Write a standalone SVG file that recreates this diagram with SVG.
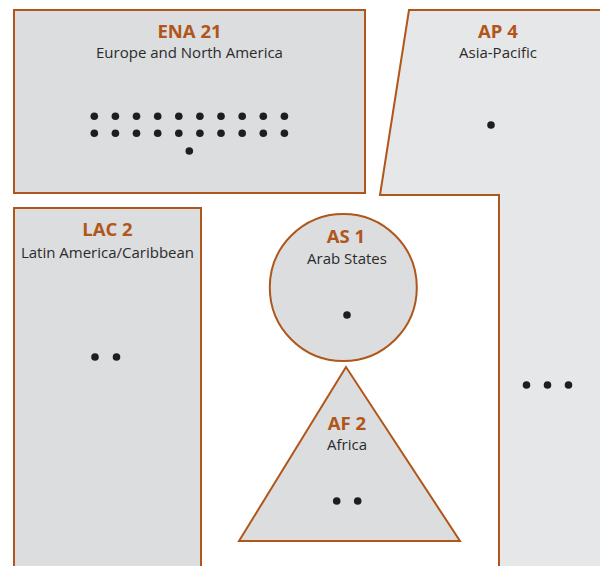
<svg xmlns="http://www.w3.org/2000/svg" width="600" height="566" viewBox="0 0 600 566">
<style>
.shape{fill:#dcdddf;stroke:#b0561a;stroke-width:2}
.ap{fill:#e6e7e9;stroke:#b0561a;stroke-width:2}
.t{font-family:"Open Sans","Noto Sans",sans-serif;font-weight:bold;font-size:18.5px;fill:#b0561a;text-anchor:middle}
.s{font-family:"Open Sans","Noto Sans",sans-serif;font-size:15px;fill:#2b2b2b;text-anchor:middle}
.d{fill:#1e1e1e}
</style>
<g id="connectors"></g>
<g id="ap">
<polygon class="ap" points="409,10 602,10 602,568 499,568 499,195 380,195"/>
<text class="t" x="498" y="38">AP 4</text>
<text class="s" x="498" y="57.5">Asia-Pacific</text>
<circle class="d" cx="491" cy="125" r="3.8"/>
<circle class="d" cx="526.5" cy="385" r="3.8"/>
<circle class="d" cx="547.5" cy="385" r="3.8"/>
<circle class="d" cx="568.5" cy="385" r="3.8"/>
</g>
<g id="ena">
<rect class="shape" x="14" y="10" width="351" height="183"/>
<text class="t" x="189.5" y="38">ENA 21</text>
<text class="s" x="189.5" y="57.5">Europe and North America</text>
<g class="d">
<circle cx="94.3" cy="116.3" r="3.8"/><circle cx="115.4" cy="116.3" r="3.8"/><circle cx="136.5" cy="116.3" r="3.8"/><circle cx="157.7" cy="116.3" r="3.8"/><circle cx="178.8" cy="116.3" r="3.8"/><circle cx="199.9" cy="116.3" r="3.8"/><circle cx="221" cy="116.3" r="3.8"/><circle cx="242.2" cy="116.3" r="3.8"/><circle cx="263.3" cy="116.3" r="3.8"/><circle cx="284.4" cy="116.3" r="3.8"/>
<circle cx="94.3" cy="133.3" r="3.8"/><circle cx="115.4" cy="133.3" r="3.8"/><circle cx="136.5" cy="133.3" r="3.8"/><circle cx="157.7" cy="133.3" r="3.8"/><circle cx="178.8" cy="133.3" r="3.8"/><circle cx="199.9" cy="133.3" r="3.8"/><circle cx="221" cy="133.3" r="3.8"/><circle cx="242.2" cy="133.3" r="3.8"/><circle cx="263.3" cy="133.3" r="3.8"/><circle cx="284.4" cy="133.3" r="3.8"/>
<circle cx="189.3" cy="151" r="3.8"/>
</g>
</g>
<g id="lac">
<rect class="shape" x="14" y="208" width="187" height="362"/>
<text class="t" x="107.5" y="236">LAC 2</text>
<text class="s" x="107.5" y="257.5">Latin America/Caribbean</text>
<circle class="d" cx="95" cy="357" r="3.8"/>
<circle class="d" cx="116.5" cy="357" r="3.8"/>
</g>
<g id="as">
<circle class="shape" cx="343.3" cy="287.5" r="73.5"/>
<text class="t" x="346" y="243">AS 1</text>
<text class="s" x="347" y="263.5">Arab States</text>
<circle class="d" cx="347" cy="315" r="3.8"/>
</g>
<g id="af">
<polygon class="shape" points="346,367 239,541 460,541"/>
<text class="t" x="347" y="430">AF 2</text>
<text class="s" x="347" y="449.5">Africa</text>
<circle class="d" cx="336.7" cy="501" r="3.8"/>
<circle class="d" cx="357.7" cy="501" r="3.8"/>
</g>
</svg>
